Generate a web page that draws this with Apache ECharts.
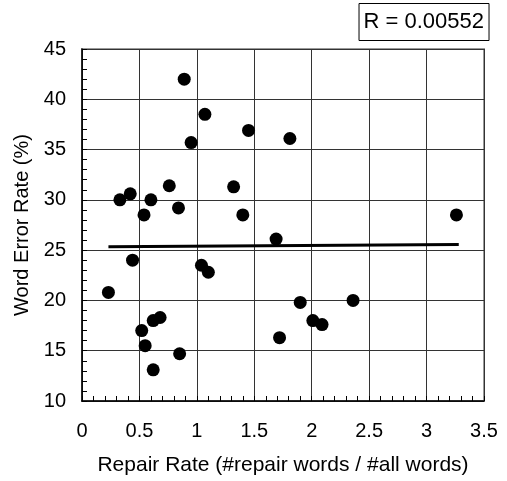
<!DOCTYPE html>
<html>
<head>
<meta charset="utf-8">
<script src="https://cdn.jsdelivr.net/npm/echarts@6/dist/echarts.min.js"></script>
<style>
  html, body { margin: 0; padding: 0; background: #fff; }
  #chart { width: 507px; height: 481px; }
</style>
</head>
<body>
<div id="chart"></div>
<script>
// Data
const repairRate = [0.89, 1.07, 1.45, 0.95, 1.81, 0.33, 0.42, 0.60, 0.54, 0.76, 0.84, 1.32, 1.40, 3.26, 1.69,
                    0.44, 1.04, 1.10, 0.23, 1.90, 2.36, 2.01, 2.09, 0.62, 0.68, 0.52, 1.72, 0.55, 0.85, 0.62];
const wordErrorRate = [42.0, 38.5, 36.9, 35.7, 36.1, 30.0, 30.6, 30.0, 28.5, 31.4, 29.2, 31.3, 28.5, 28.5, 26.1,
                       24.0, 23.5, 22.8, 20.8, 19.8, 20.0, 18.0, 17.6, 18.0, 18.3, 17.0, 16.3, 15.5, 14.7, 13.1];
const trendX = [0.23, 3.28];
const trendY = [25.33, 25.55];
const rLabel = 'R = 0.00552';
const xTitle = 'Repair Rate (#repair words / #all words)';
const yTitle = 'Word Error Rate (%)';

const FONT = '"Liberation Sans", Arial, sans-serif';
const chart = echarts.init(document.getElementById('chart'), null, { renderer: 'canvas' });

const points = repairRate.map((x, i) => [x, wordErrorRate[i]]);
const trend = trendX.map((x, i) => [x, trendY[i]]);

chart.setOption({
  animation: false,
  backgroundColor: '#ffffff',
  textStyle: { fontFamily: FONT },
  title: {
    text: rLabel,
    right: 18,
    top: 3,
    padding: [8, 5, 8, 5],
    borderColor: '#000',
    borderWidth: 1,
    textStyle: { fontFamily: FONT, fontSize: 22, fontWeight: 'normal', color: '#000', lineHeight: 22 }
  },
  grid: { left: 82, right: 23, top: 49, bottom: 80, containLabel: false,
          show: true, borderColor: '#999', borderWidth: 2 },
  xAxis: {
    type: 'value', min: 0, max: 3.5, interval: 0.5,
    name: xTitle, nameLocation: 'middle', nameGap: 54,
    nameTextStyle: { fontFamily: FONT, fontSize: 21, color: '#000' },
    axisLine: { show: true, onZero: false, lineStyle: { color: '#000', width: 1.5 } },
    axisTick: { show: true, inside: true, length: 5, lineStyle: { color: '#000' } },
    minorTick: { show: true, splitNumber: 5, length: 5, lineStyle: { color: '#000' } },
    axisLabel: { fontFamily: FONT, fontSize: 20, color: '#000', margin: 20 },
    splitLine: { show: true, lineStyle: { color: '#333', width: 1 } }
  },
  yAxis: {
    type: 'value', min: 10, max: 45, interval: 5,
    name: yTitle, nameLocation: 'middle', nameGap: 48,
    nameTextStyle: { fontFamily: FONT, fontSize: 20, color: '#000' },
    axisLine: { show: true, onZero: false, lineStyle: { color: '#000', width: 1.5 } },
    axisTick: { show: true, inside: true, length: 5, lineStyle: { color: '#000' } },
    minorTick: { show: true, splitNumber: 5, length: 5, lineStyle: { color: '#000' } },
    axisLabel: { fontFamily: FONT, fontSize: 20, color: '#000', margin: 16 },
    splitLine: { show: true, lineStyle: { color: '#333', width: 1 } }
  },
  series: [
    {
      type: 'line', data: trend, symbol: 'none', silent: true,
      lineStyle: { color: '#000', width: 3 }, z: 2
    },
    {
      type: 'scatter', data: points, symbol: 'circle', symbolSize: 13,
      itemStyle: { color: '#000', opacity: 1 }, z: 3
    }
  ]
});
</script>
</body>
</html>
